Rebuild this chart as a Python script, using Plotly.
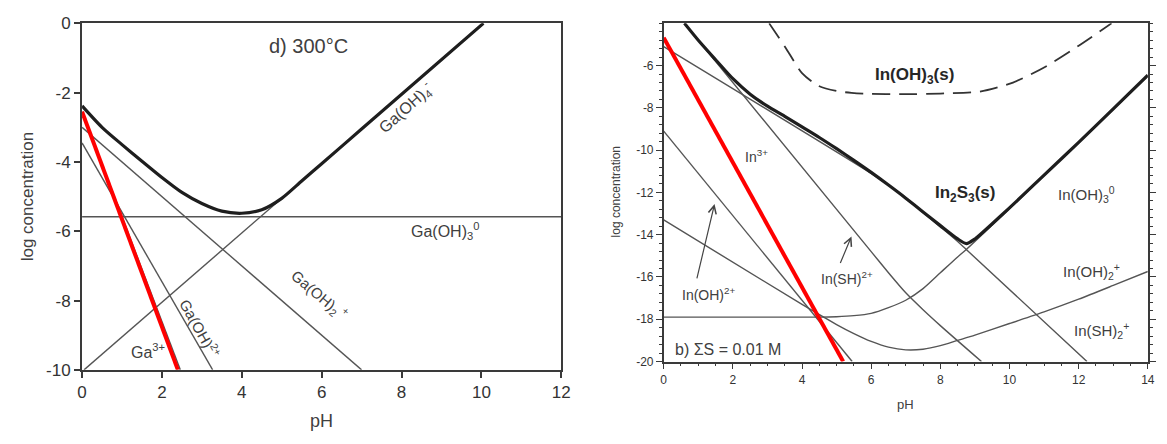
import plotly.graph_objects as go

# ---------------- Left panel (Ga, 300 C) ----------------
ga_oh4_ph = [0.05, 10.05]
ga_oh4_lc = [-10.0, 0.0]
ga_oh3_ph = [0.0, 12.0]
ga_oh3_lc = [-5.58, -5.58]
ga_oh2_ph = [0.0, 7.0]
ga_oh2_lc = [-3.0, -10.0]
ga_oh_ph = [0.0, 3.27]
ga_oh_lc = [-3.45, -10.0]
ga3_ph = [0.0, 2.46]
ga3_lc = [-2.55, -10.0]
ga_red_ph = [0.0, 2.40]
ga_red_lc = [-2.55, -10.0]
ga_tot_ph = [0.0, 0.5, 1.0, 1.5, 2.0, 2.5, 3.0, 3.5, 4.0, 4.5, 5.0, 5.5, 6.0, 7.0, 10.05]
ga_tot_lc = [-2.38, -3.0, -3.5, -3.98, -4.45, -4.88, -5.2, -5.42, -5.48, -5.38, -5.05, -4.55, -4.05, -3.05, 0.0]

# ---------------- Right panel (In, sum S = 0.01 M) ----------------
in_red_ph = [0.0, 5.19]
in_red_lc = [-4.68, -20.0]
in_oh_ph = [0.0, 5.45]
in_oh_lc = [-9.1, -20.0]
in_sh_a_ph = [0.6, 6.0, 6.5, 7.0, 7.5, 8.0, 9.19]          # In(SH)2+ (slope -2)
in_sh_a_lc = [-4.0, -14.8, -15.8, -16.75, -17.55, -18.3, -20.0]
in_sh2_ph = [0.0, 6.0, 6.5, 7.0, 7.5, 8.0, 8.5, 8.75, 12.24]  # In(SH)2+ (slope -1)
in_sh2_lc = [-5.1, -11.1, -11.65, -12.25, -12.95, -13.63, -14.32, -14.7, -20.0]
in_oh3_ph = [0.0, 4.5, 5.0, 5.5, 6.0, 6.5, 7.0, 7.5, 8.0, 8.5, 8.75, 14.0]
in_oh3_lc = [-17.9, -17.9, -17.88, -17.83, -17.72, -17.45, -17.1, -16.55, -15.8, -15.05, -14.7, -6.5]
in_oh2_ph = [0.0, 4.0, 5.0, 5.5, 6.0, 6.5, 7.0, 7.5, 8.0, 8.5, 9.0, 10.0, 11.0, 12.0, 13.0, 14.0]
in_oh2_lc = [-13.3, -17.3, -18.25, -18.68, -19.05, -19.32, -19.45, -19.42, -19.25, -19.0, -18.75,
             -18.2, -17.65, -17.05, -16.4, -15.74]
in2s3_ph = [0.6, 1.0, 1.5, 2.0, 2.5, 3.0, 3.5, 4.0, 4.5, 5.0, 5.5, 6.0, 6.5, 7.0, 7.5, 8.0, 8.5,
            8.75, 9.0, 9.5, 10.0, 11.0, 12.0, 13.0, 14.0]
in2s3_lc = [-4.0, -4.8, -5.72, -6.62, -7.35, -7.92, -8.4, -8.9, -9.4, -9.93, -10.48, -11.05, -11.65,
            -12.27, -12.92, -13.57, -14.2, -14.42, -14.2, -13.48, -12.73, -11.18, -9.63, -8.05, -6.45]
inoh3s_ph = [3.05, 3.52, 4.0, 4.47, 5.0, 5.43, 5.81, 7.0, 8.0, 9.14, 10.1, 11.04, 12.0, 12.95]
inoh3s_lc = [-4.0, -5.14, -6.35, -6.95, -7.2, -7.29, -7.33, -7.35, -7.32, -7.23, -6.8, -6.05, -5.06, -4.0]

left_xticks = [0, 2, 4, 6, 8, 10, 12]
left_yticks = [0, -2, -4, -6, -8, -10]
right_xticks = [0, 2, 4, 6, 8, 10, 12, 14]
right_yticks = [-6, -8, -10, -12, -14, -16, -18, -20]

THIN = dict(color="#555555", width=1.4)
THICK = dict(color="#1e1e1e", width=3.2)
RED = dict(color="#ff0000", width=4)
TXT = "#404040"

fig = go.Figure()

def add(x, y, line, ax="x", ay="y", shape="linear"):
    ln = dict(**line, shape=shape)
    if shape == "spline":
        ln["smoothing"] = 0.7
    fig.add_trace(go.Scatter(x=x, y=y, mode="lines", line=ln,
                             xaxis=ax, yaxis=ay, showlegend=False, hoverinfo="skip"))

# left
add(ga_oh4_ph, ga_oh4_lc, THIN)
add(ga_oh3_ph, ga_oh3_lc, THIN)
add(ga_oh2_ph, ga_oh2_lc, THIN)
add(ga_oh_ph, ga_oh_lc, THIN)
add(ga3_ph, ga3_lc, THIN)
add(ga_tot_ph, ga_tot_lc, THICK, shape="spline")
add(ga_red_ph, ga_red_lc, RED)

# right
add(in_oh_ph, in_oh_lc, THIN, "x2", "y2")
add(in_sh_a_ph, in_sh_a_lc, THIN, "x2", "y2", "spline")
add(in_sh2_ph, in_sh2_lc, THIN, "x2", "y2", "spline")
add(in_oh3_ph, in_oh3_lc, THIN, "x2", "y2", "spline")
add(in_oh2_ph, in_oh2_lc, THIN, "x2", "y2", "spline")
add(in2s3_ph, in2s3_lc, THICK, "x2", "y2", "spline")
add(inoh3s_ph, inoh3s_lc, dict(color="#333333", width=1.8, dash="18px,9px"), "x2", "y2", "spline")
add(in_red_ph, in_red_lc, RED, "x2", "y2")

W, H = 1167, 444
def dom_x(a, b):
    return [a / W, b / W]
def dom_y(top, bot):
    return [(H - bot) / H, (H - top) / H]

def lab(v):
    return [str(t) for t in v]

axis_common = dict(showgrid=False, zeroline=False, showline=True, linecolor="#3a3a3a",
                   ticks="outside", tickcolor="#3a3a3a", color="#333333")

fig.update_layout(
    width=W, height=H, margin=dict(l=0, r=0, t=0, b=0),
    paper_bgcolor="white", plot_bgcolor="white",
    font=dict(family="Liberation Sans, Arial, sans-serif", color=TXT),
    xaxis=dict(domain=dom_x(78, 563), range=[0, 12], tickvals=left_xticks, ticktext=lab(left_xticks),
               mirror=True, linewidth=2, ticklen=6, tickwidth=1.5, tickfont=dict(size=17), anchor="y",
               **axis_common),
    yaxis=dict(domain=dom_y(15, 377), range=[-10, 0], tickvals=left_yticks, ticktext=lab(left_yticks),
               mirror=True, linewidth=2, ticklen=6, tickwidth=1.5, tickfont=dict(size=17), anchor="x",
               **axis_common),
    xaxis2=dict(domain=dom_x(666.7, 1156.7), range=[0, 14], tickvals=right_xticks, ticktext=lab(right_xticks),
                mirror=True, linewidth=1.5, ticklen=6, tickwidth=1.3, tickfont=dict(size=12), anchor="y2",
                minor=dict(dtick=0.5, tick0=0, ticks="outside", ticklen=3, tickcolor="#3a3a3a"),
                **axis_common),
    yaxis2=dict(domain=dom_y(15, 368.3), range=[-20, -4], tickvals=right_yticks, ticktext=lab(right_yticks),
                mirror="ticks", linewidth=1.5, ticklen=6, tickwidth=1.3, tickfont=dict(size=12), anchor="x2",
                minor=dict(dtick=0.4, tick0=-20, ticks="outside", ticklen=3, tickcolor="#3a3a3a"),
                **axis_common),
)

def note(text, x, y, xr="x", yr="y", size=15, angle=0, bold=False, color=TXT):
    if bold:
        text = "<b>" + text + "</b>"
    fig.add_annotation(text=text, x=x, y=y, xref=xr, yref=yr, showarrow=False,
                       textangle=angle, font=dict(size=size, color=color),
                       xanchor="center", yanchor="middle")

def paper_note(text, px, py, size=15, angle=0):
    fig.add_annotation(text=text, x=px / W, y=(H - py) / H, xref="paper", yref="paper",
                       showarrow=False, textangle=angle, font=dict(size=size, color=TXT),
                       xanchor="center", yanchor="middle")

# axis titles
paper_note("log concentration", 23, 196, size=17, angle=-90)
paper_note("pH", 320, 430, size=18)
paper_note("log concentration", 618, 191, size=12, angle=-90)
paper_note("pH", 911, 413, size=13)

# left labels
note("d) 300°C", 5.67, -0.64, size=20)
note("Ga(OH)<sub>4</sub><sup>-</sup>", 8.1, -2.45, size=16, angle=-42)
note("Ga(OH)<sub>3</sub><sup>0</sup>", 9.08, -6.0, size=16)
note("Ga(OH)<sub>2</sub><sup> +</sup>", 5.94, -7.82, size=15, angle=40)
note("Ga(OH)<sup>2+</sup>", 2.95, -8.79, size=15, angle=61)
note("Ga<sup>3+</sup>", 1.66, -9.46, size=16)

# right labels
note("In(OH)<sub>3</sub>(s)", 7.24, -6.5, "x2", "y2", size=17, bold=True, color="#262626")
note("In<sub>2</sub>S<sub>3</sub>(s)", 8.72, -12.09, "x2", "y2", size=17, bold=True, color="#262626")
note("In(OH)<sub>3</sub><sup>0</sup>", 12.24, -12.09, "x2", "y2", size=15)
note("In<sup>3+</sup>", 2.67, -10.27, "x2", "y2", size=14)
note("In(OH)<sup>2+</sup>", 1.29, -16.82, "x2", "y2", size=14)
note("In(SH)<sup>2+</sup>", 5.29, -16.05, "x2", "y2", size=14)
note("In(OH)<sub>2</sub><sup>+</sup>", 12.38, -15.73, "x2", "y2", size=15)
note("In(SH)<sub>2</sub><sup>+</sup>", 12.67, -18.55, "x2", "y2", size=15)
note("b) ΣS = 0.01 M", 1.87, -19.45, "x2", "y2", size=16)

# arrows
for (tx, ty, hx, hy) in [(0.95, -16.14, 1.47, -12.55), (5.09, -15.41, 5.43, -14.08)]:
    fig.add_annotation(text="", x=hx, y=hy, ax=tx, ay=ty, xref="x2", yref="y2",
                       axref="x2", ayref="y2", showarrow=True, arrowhead=5, arrowsize=1.3,
                       arrowwidth=1.2, arrowcolor="#444444")

fig.write_html("out.html")
